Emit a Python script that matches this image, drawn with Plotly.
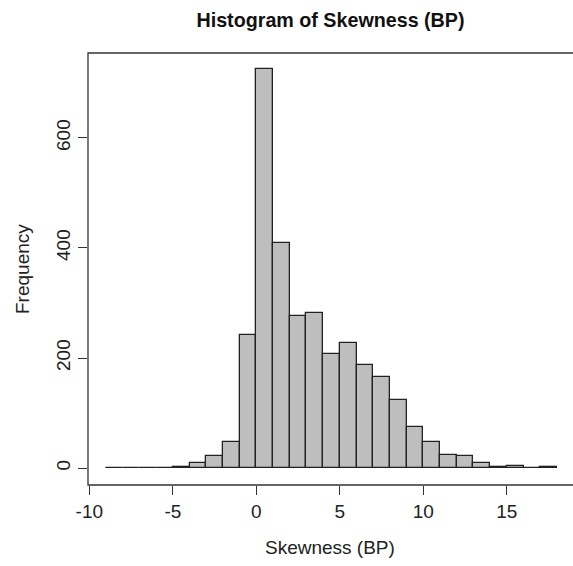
import plotly.graph_objects as go

# Histogram bins (left edges, width 1) and counts
bin_left = list(range(-9, 18))
counts = [0, 0, 0, 0, 2, 10, 22, 48, 242, 726, 409, 276, 281, 208, 228, 188,
          166, 124, 75, 48, 23, 21, 10, 1, 4, 0, 2]
x_ticks = [-10, -5, 0, 5, 10, 15]
y_ticks = [0, 200, 400, 600]

centers = [b + 0.5 for b in bin_left]

FONT = "Liberation Sans, Arial, sans-serif"
TXT = 19

fig = go.Figure(go.Bar(
    x=centers, y=counts, width=1,
    marker=dict(color="#BEBEBE", line=dict(color="#222222", width=1.3)),
    hoverinfo="x+y",
))

fig.update_layout(
    width=573, height=566,
    margin=dict(l=88, r=0, t=53, b=81),
    paper_bgcolor="white", plot_bgcolor="white",
    showlegend=False,
    bargap=0,
    font=dict(family=FONT, size=TXT, color="#222222"),
    title=dict(text="<b>Histogram of Skewness (BP)</b>", x=0.5, xanchor="center",
               xref="paper", y=1 - 20 / 566, yanchor="middle",
               font=dict(family=FONT, size=19.7, color="#111111")),
    xaxis=dict(range=[-10.08, 18.96], tickvals=x_ticks, ticktext=[str(v) for v in x_ticks],
               ticks="outside", ticklen=9, tickwidth=1.2, tickcolor="#333333",
               showgrid=False, zeroline=False, showline=False,
               tickfont=dict(family=FONT, size=TXT, color="#222222")),
    yaxis=dict(range=[-30.9, 754.5], tickvals=y_ticks, ticktext=[str(v) for v in y_ticks],
               ticks="outside", ticklen=9, tickwidth=1.2, tickcolor="#333333",
               tickangle=-90,
               showgrid=False, zeroline=False, showline=False,
               tickfont=dict(family=FONT, size=TXT, color="#222222")),
    shapes=[dict(type="rect", xref="paper", yref="paper", x0=0, x1=1.02, y0=0, y1=1,
                 line=dict(color="#333333", width=1.3), fillcolor="rgba(0,0,0,0)",
                 layer="above")],
    annotations=[
        dict(text="Skewness (BP)", xref="paper", yref="paper", x=(330 - 88) / 485,
             y=-(547 - 485) / 432, xanchor="center", yanchor="middle", showarrow=False,
             font=dict(family=FONT, size=TXT, color="#222222")),
        dict(text="Frequency", xref="paper", yref="paper", x=-(88 - 22) / 485, y=0.5,
             xanchor="center", yanchor="middle", textangle=-90, showarrow=False,
             font=dict(family=FONT, size=TXT, color="#222222")),
    ],
)

fig.write_html("out.html", config={"displayModeBar": False},
               post_script="document.body.style.margin='0';")
